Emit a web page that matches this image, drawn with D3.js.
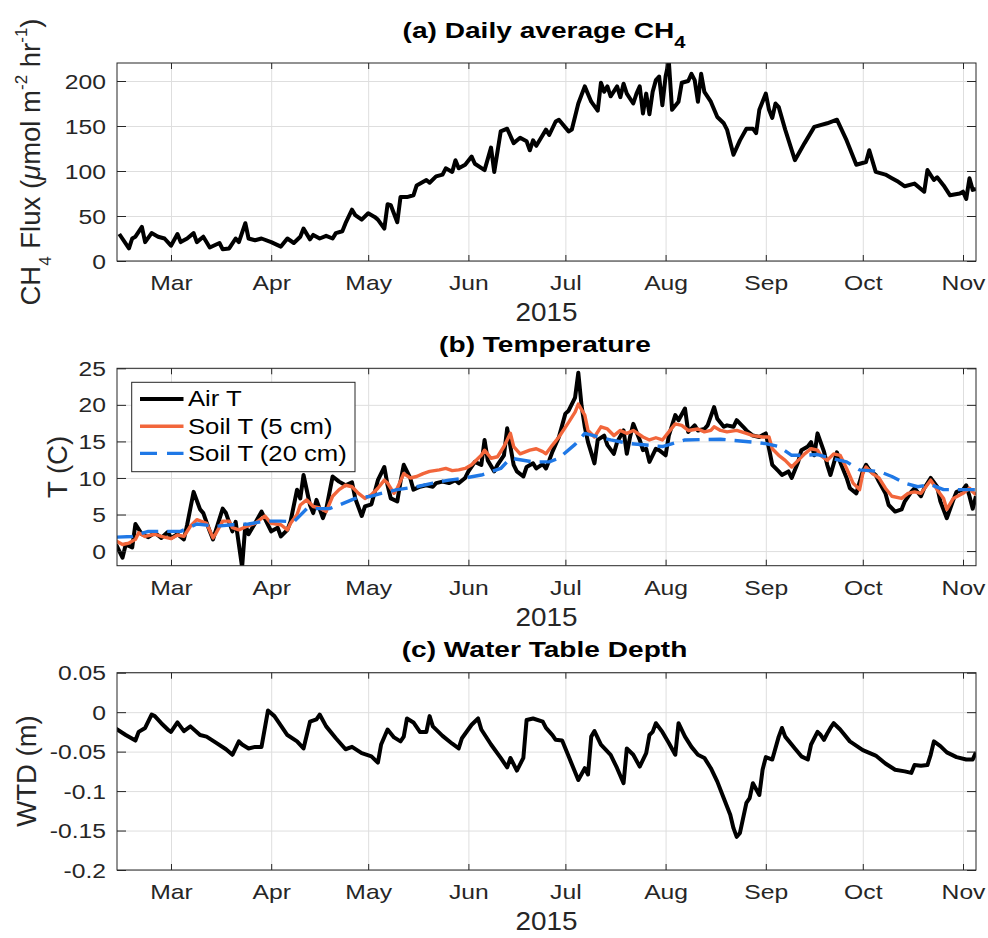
<!DOCTYPE html>
<html>
<head>
<meta charset="utf-8">
<script src="https://cdn.jsdelivr.net/npm/d3@7"></script>
<style>
  html, body { margin: 0; padding: 0; background: #fff; }
  svg { display: block; font-family: "Liberation Sans", Arial, Helvetica, sans-serif; }
</style>
</head>
<body>
<svg id="chart" width="988" height="938"></svg>
<script>
// ---- Data: [day of year 2015, value] ----
// Daily average CH4 flux (umol m-2 hr-1)
const ch4Flux = [
  [44,30],[47,14],[48,25],[49,27],[51,38],[52,21],[54,31],[56,27],[58,25],[60,17],[62,30],[63,21],[65,25],[67,31],
  [68,21],[70,27],[72,15],[75,20],[76,13],[78,14],[80,25],[81,21],[83,42],[84,25],[86,23],[88,25],[91,21],[94,16],
  [96,25],[98,20],[100,27],[101,36],[103,24],[104,29],[106,25],[108,28],[110,25],[111,31],[113,33],[114,42],[116,57],
  [117,51],[119,46],[121,53],[123,49],[124,46],[126,36],[127,63],[128,62],[130,43],[131,71],[133,71],[135,73],[136,84],
  [139,90],[140,87],[142,94],[144,96],[145,103],[147,99],[148,112],[149,103],[151,107],[153,116],[154,108],[157,101],
  [159,126],[160,99],[162,144],[164,147],[166,131],[168,137],[170,133],[171,123],[172,134],[173,128],[175,140],[176,146],
  [177,140],[179,155],[180,157],[183,144],[184,146],[186,175],[188,194],[190,177],[192,167],[193,198],[194,188],[195,194],
  [196,183],[198,194],[199,182],[200,197],[201,186],[203,175],[204,186],[205,194],[206,164],[207,186],[208,163],[209,188],
  [210,201],[211,205],[212,173],[213,205],[214,222],[215,168],[217,177],[218,198],[220,200],[221,208],[222,201],[223,177],
  [224,208],[225,188],[227,177],[229,160],[231,153],[232,146],[234,118],[236,134],[238,147],[240,147],[241,142],[242,168],
  [244,186],[245,168],[246,159],[247,175],[248,171],[250,146],[253,112],[256,131],[259,149],[263,153],[266,157],[269,134],
  [272,107],[275,110],[276,123],[278,99],[281,96],[283,92],[285,88],[287,83],[290,86],[293,77],[294,101],[296,90],
  [297,93],[299,84],[301,73],[304,75],[305,77],[306,69],[307,92],[308,79],[309,80]
];

// Air temperature (C)
const airT = [
  [43,0.9],[45,-0.9],[46,0.9],[48,0.5],[49,3.7],[51,2.3],[53,1.9],[55,2.5],[57,1.8],[59,2.6],[60,1.8],[62,2.3],[64,1.6],
  [65,3.6],[67,8.1],[69,5.7],[70,5.2],[72,2.7],[73,1.6],[76,5.8],[77,5.2],[79,2.7],[80,4.0],[82,-2.2],[83,3.6],[84,2.3],
  [86,3.8],[88,5.4],[90,3.6],[91,2.7],[93,3.2],[94,2.0],[96,2.9],[97,4.1],[99,8.4],[100,7.2],[101,10.4],[103,6.3],
  [104,5.2],[105,7.0],[107,4.5],[108,5.7],[110,10.2],[112,9.5],[114,9.0],[116,9.4],[117,7.2],[119,4.8],[120,6.1],
  [122,6.4],[124,9.7],[126,11.5],[127,9.0],[128,7.2],[130,6.8],[131,9.5],[132,11.8],[134,10.0],[135,8.4],[137,8.8],
  [139,9.0],[141,8.8],[142,9.3],[144,9.5],[146,9.3],[148,9.7],[149,9.3],[151,10.0],[152,10.9],[154,12.2],[156,11.8],
  [157,15.2],[158,12.4],[160,10.9],[161,11.8],[163,13.1],[164,16.8],[166,11.8],[167,10.9],[169,10.2],[170,11.5],
  [172,12.0],[173,11.3],[175,11.9],[176,11.3],[177,12.4],[178,13.6],[180,15.6],[182,18.8],[183,19.2],[185,21.0],
  [186,24.4],[187,19.9],[188,17.0],[189,14.9],[191,12.0],[192,15.2],[194,15.8],[195,14.5],[197,13.3],[198,14.9],
  [200,16.5],[201,13.3],[202,15.6],[203,17.4],[205,15.2],[206,13.8],[207,14.0],[208,12.2],[210,14.0],[211,13.8],
  [213,13.1],[214,15.8],[216,18.6],[217,17.9],[219,19.5],[220,16.3],[222,17.2],[223,16.5],[225,16.7],[226,17.2],
  [228,19.7],[229,18.1],[231,17.0],[232,17.2],[234,17.0],[235,17.9],[237,17.0],[238,16.5],[240,15.8],[242,15.6],
  [244,16.1],[245,14.0],[246,11.8],[248,10.9],[249,10.4],[251,10.9],[252,10.0],[254,12.2],[255,13.8],[257,14.3],
  [258,14.9],[259,13.1],[260,16.1],[262,13.6],[263,11.8],[264,10.4],[266,13.5],[267,12.2],[269,10.0],[270,8.6],
  [272,7.9],[274,10.9],[275,11.8],[276,11.1],[278,10.4],[279,9.5],[281,7.9],[282,6.3],[284,5.4],[286,5.7],[287,6.8],
  [289,8.1],[290,8.6],[292,7.5],[293,8.6],[295,10.0],[297,8.8],[298,6.8],[300,4.5],[302,7.0],[303,8.1],[305,8.4],
  [306,9.0],[307,7.5],[308,5.8],[309,7.5]
];

// Soil temperature at 5 cm (C)
const soilT5 = [
  [43,1.4],[45,0.9],[47,1.1],[49,1.6],[50,2.5],[52,2.0],[55,2.3],[57,2.0],[60,1.7],[62,2.2],[64,2.0],[66,3.4],[68,4.3],
  [71,3.8],[73,1.8],[74,2.5],[76,4.1],[78,4.1],[79,3.2],[81,2.9],[83,3.3],[86,3.8],[89,4.8],[91,3.8],[94,3.6],[96,2.9],
  [97,3.8],[99,5.0],[100,6.3],[102,7.0],[104,6.1],[106,5.9],[108,5.4],[110,7.5],[112,8.4],[114,9.0],[116,8.8],[118,7.9],
  [120,7.2],[122,7.7],[124,8.6],[126,9.7],[127,9.3],[129,7.9],[130,8.6],[132,10.6],[134,10.0],[136,10.2],[138,10.6],
  [140,10.9],[143,11.1],[145,11.3],[147,11.0],[149,11.1],[151,11.3],[153,11.8],[156,13.1],[157,13.8],[159,12.7],
  [161,12.9],[163,14.3],[165,16.1],[166,14.3],[168,13.3],[171,13.8],[173,14.0],[175,13.6],[176,13.3],[178,14.5],
  [180,15.6],[183,17.6],[185,19.0],[186,20.1],[188,18.6],[189,16.5],[191,15.6],[193,17.0],[195,16.7],[197,15.8],
  [199,16.5],[201,16.1],[203,16.5],[206,15.6],[208,15.2],[210,15.5],[212,15.2],[214,16.3],[216,17.4],[218,17.2],
  [220,16.5],[223,16.7],[225,16.3],[227,16.5],[228,17.0],[230,16.5],[232,16.3],[235,16.5],[238,16.1],[240,15.8],
  [243,15.6],[245,15.6],[246,14.0],[248,13.1],[250,12.4],[252,11.5],[254,12.4],[256,13.3],[258,14.0],[260,13.8],
  [261,13.1],[263,12.4],[265,13.3],[267,13.1],[269,11.3],[271,9.3],[273,8.4],[274,10.6],[275,11.5],[277,10.6],
  [279,10.0],[281,8.6],[283,7.5],[286,7.2],[288,7.9],[290,8.1],[292,7.9],[295,9.7],[297,8.4],[299,7.2],[300,5.7],
  [302,7.2],[305,7.9],[307,8.6],[308,8.1],[309,7.7]
];

// Soil temperature at 20 cm (C)
const soilT20 = [
  [43,1.9],[48,2.0],[53,2.7],[58,2.7],[63,2.7],[68,3.7],[74,3.4],[79,3.6],[84,3.7],[89,4.1],[94,4.1],[98,4.0],
  [102,5.8],[109,5.8],[112,6.3],[117,7.2],[122,7.5],[125,7.9],[130,8.4],[136,8.8],[141,9.3],[146,9.7],[151,10.0],
  [156,10.4],[162,11.3],[165,12.7],[172,12.2],[177,12.2],[180,12.7],[185,14.6],[188,16.1],[196,15.2],[202,14.7],
  [207,14.5],[212,14.3],[219,15.2],[230,15.3],[240,14.9],[244,14.7],[248,14.3],[252,13.1],[256,13.1],[260,13.2],
  [264,12.7],[269,12.2],[273,11.1],[279,10.9],[283,10.2],[287,9.3],[291,8.8],[295,9.1],[299,8.4],[309,8.4]
];

// Water table depth (m)
const waterTable = [
  [43,-0.021],[46,-0.029],[49,-0.036],[50,-0.025],[52,-0.020],[54,-0.003],[55,-0.005],[57,-0.014],[59,-0.022],
  [60,-0.025],[62,-0.013],[64,-0.024],[66,-0.018],[69,-0.029],[71,-0.031],[74,-0.039],[77,-0.047],[79,-0.054],
  [81,-0.037],[82,-0.041],[84,-0.046],[86,-0.044],[88,-0.044],[90,0.002],[92,-0.005],[94,-0.017],[96,-0.029],
  [99,-0.037],[101,-0.046],[103,-0.012],[105,-0.009],[106,-0.003],[108,-0.018],[111,-0.033],[114,-0.047],[116,-0.044],
  [119,-0.052],[122,-0.056],[124,-0.064],[125,-0.041],[127,-0.022],[129,-0.032],[131,-0.037],[132,-0.031],[133,-0.008],
  [135,-0.013],[137,-0.025],[139,-0.025],[140,-0.005],[141,-0.018],[144,-0.030],[147,-0.040],[149,-0.046],[150,-0.033],
  [153,-0.016],[155,-0.008],[156,-0.022],[159,-0.041],[162,-0.058],[164,-0.070],[165,-0.058],[167,-0.074],[169,-0.058],
  [170,-0.010],[172,-0.008],[175,-0.012],[176,-0.020],[178,-0.029],[179,-0.035],[181,-0.036],[183,-0.056],[186,-0.086],
  [188,-0.071],[189,-0.079],[190,-0.031],[191,-0.024],[193,-0.041],[196,-0.054],[198,-0.071],[200,-0.090],[201,-0.046],
  [203,-0.054],[205,-0.069],[207,-0.052],[208,-0.029],[209,-0.025],[210,-0.014],[212,-0.025],[214,-0.039],[216,-0.054],
  [217,-0.014],[219,-0.031],[221,-0.044],[223,-0.054],[225,-0.058],[227,-0.071],[229,-0.088],[231,-0.109],[233,-0.130],
  [234,-0.147],[235,-0.158],[236,-0.153],[238,-0.115],[239,-0.109],[240,-0.090],[242,-0.105],[243,-0.073],[244,-0.057],
  [246,-0.060],[248,-0.031],[249,-0.020],[250,-0.031],[253,-0.046],[255,-0.056],[257,-0.060],[258,-0.041],[260,-0.025],
  [261,-0.029],[262,-0.035],[263,-0.027],[264,-0.020],[265,-0.014],[267,-0.022],[270,-0.037],[274,-0.048],[278,-0.055],
  [281,-0.065],[284,-0.073],[287,-0.075],[289,-0.077],[290,-0.067],[292,-0.068],[294,-0.067],[295,-0.054],[296,-0.037],
  [298,-0.043],[300,-0.051],[303,-0.057],[306,-0.060],[308,-0.060],[309,-0.051]
];

// Axis ticks
const fluxTicks = [0, 50, 100, 150, 200];
const tempTicks = [0, 5, 10, 15, 20, 25];
const wtdTicks = [-0.2, -0.15, -0.1, -0.05, 0, 0.05];
const wtdTickLabels = ["-0.2", "-0.15", "-0.1", "-0.05", "0", "0.05"];

// Legend entries for the temperature panel
const tempSeriesNames = ["Air T", "Soil T (5 cm)", "Soil T (20 cm)"];

// ---- Drawing ----
const AXIS = "#262626";
const GRID = "#dedede";
const ORANGE = "#f2663b";
const BLUE = "#1f78e6";
const LEFT = 117, RIGHT = 976;
const TICK_SX = 1.26;   // horizontal stretch applied to tick labels and titles
const LINE_W = 4;       // black series
const SOIL_W = 3.4;     // soil series
const DASH = "17,9";

const svg = d3.select("#chart");
svg.append("rect").attr("width", 988).attr("height", 938).attr("fill", "#fff");

const fromDoy = d => new Date(Date.UTC(2015, 0, 1) + (d - 1) * 864e5);
const x = d3.scaleUtc().domain([fromDoy(43.3), fromDoy(309.02)]).range([LEFT, RIGHT]);
const monthStarts = d3.utcMonth.range(fromDoy(44), fromDoy(309));

function cleanAxis(sel) {
  sel.attr("font-size", null).attr("font-family", null);
  sel.select(".domain").remove();
}

function drawPanel(cfg) {
  const { id, top, bottom, yDomain, yTicks, yFormat } = cfg;
  const y = d3.scaleLinear().domain(yDomain).range([bottom, top]);
  const g = svg.append("g");
  const w = RIGHT - LEFT, h = bottom - top;

  // grid
  g.append("g").attr("transform", `translate(0,${bottom})`)
    .call(d3.axisBottom(x).tickValues(monthStarts).tickSize(-h).tickFormat(""))
    .call(cleanAxis)
    .call(s => s.selectAll("line").attr("stroke", GRID).attr("stroke-width", 1));
  g.append("g").attr("transform", `translate(${LEFT},0)`)
    .call(d3.axisLeft(y).tickValues(yTicks).tickSize(-w).tickFormat(""))
    .call(cleanAxis)
    .call(s => s.selectAll("line").attr("stroke", GRID).attr("stroke-width", 1));

  // clip region for the data
  svg.append("clipPath").attr("id", id)
    .append("rect").attr("x", LEFT).attr("y", top).attr("width", w).attr("height", h);
  const plot = g.append("g").attr("clip-path", `url(#${id})`);

  // ticks: bottom with labels, top without
  g.append("g").attr("transform", `translate(0,${bottom})`)
    .call(d3.axisBottom(x).tickValues(monthStarts).tickSizeInner(-6).tickSizeOuter(0)
      .tickFormat(d3.utcFormat("%b")))
    .call(cleanAxis)
    .call(s => s.selectAll(".tick line").attr("stroke", AXIS))
    .call(s => s.selectAll(".tick text")
      .attr("y", 29.5).attr("dy", null).attr("fill", AXIS)
      .attr("transform", `scale(${TICK_SX},1)`).style("font-size", "19.6px"));
  g.append("g").attr("transform", `translate(0,${top})`)
    .call(d3.axisTop(x).tickValues(monthStarts).tickSizeInner(-6).tickSizeOuter(0).tickFormat(""))
    .call(cleanAxis)
    .call(s => s.selectAll(".tick line").attr("stroke", AXIS));

  // y ticks: left with labels, right without
  g.append("g").attr("transform", `translate(${LEFT},0)`)
    .call(d3.axisLeft(y).tickValues(yTicks).tickSizeInner(-9).tickSizeOuter(0).tickFormat(yFormat))
    .call(cleanAxis)
    .call(s => s.selectAll(".tick line").attr("stroke", AXIS))
    .call(s => s.selectAll(".tick text")
      .attr("x", 0).attr("dy", "0.36em").attr("fill", AXIS).attr("text-anchor", "end")
      .attr("transform", `translate(-11,0) scale(${TICK_SX},1)`).style("font-size", "19.6px"));
  g.append("g").attr("transform", `translate(${RIGHT},0)`)
    .call(d3.axisRight(y).tickValues(yTicks).tickSizeInner(-9).tickSizeOuter(0).tickFormat(""))
    .call(cleanAxis)
    .call(s => s.selectAll(".tick line").attr("stroke", AXIS));

  // box
  g.append("rect").attr("x", LEFT).attr("y", top).attr("width", w).attr("height", h)
    .attr("fill", "none").attr("stroke", AXIS).attr("stroke-width", 1);

  // year label under the month ticks
  g.append("text").attr("transform", `translate(${(LEFT + RIGHT) / 2},${bottom + 60}) scale(1.09,1)`)
    .attr("text-anchor", "middle").attr("fill", AXIS).style("font-size", "25.6px").text("2015");

  return { y, plot, g };
}

function addLine(plot, y, data, color, width, dash) {
  const line = d3.line().x(d => x(fromDoy(d[0]))).y(d => y(d[1]));
  const p = plot.append("path").datum(data).attr("d", line)
    .attr("fill", "none").attr("stroke", color).attr("stroke-width", width)
    .attr("stroke-linejoin", "round").attr("stroke-linecap", "butt");
  if (dash) p.attr("stroke-dasharray", dash);
  return p;
}

function addTitle(cx, baseline, text, sub) {
  const t = svg.append("text")
    .attr("transform", `translate(${cx},${baseline}) scale(${TICK_SX},1)`)
    .attr("text-anchor", "middle").attr("fill", "#000")
    .style("font-weight", "bold").style("font-size", "22.3px");
  t.append("tspan").text(text);
  if (sub) t.append("tspan").attr("dy", 10).style("font-size", "16px").text(sub);
}

// Panel (a): CH4 flux
const pa = drawPanel({ id: "clipA", top: 63, bottom: 261, yDomain: [0, 220], yTicks: fluxTicks, yFormat: d3.format("d") });
addLine(pa.plot, pa.y, ch4Flux, "#000", LINE_W);
addTitle(544, 38, "(a) Daily average CH", "4");
{
  const yl = svg.append("text").attr("transform", "translate(40,162) rotate(-90)")
    .attr("text-anchor", "middle").attr("fill", AXIS).style("font-size", "27.5px");
  yl.append("tspan").text("CH");
  yl.append("tspan").attr("dy", 11).style("font-size", "17px").text("4");
  yl.append("tspan").attr("dy", -11).text(" Flux (");
  yl.append("tspan").style("font-style", "italic").text("\u03bc");
  yl.append("tspan").text("mol m");
  yl.append("tspan").attr("dy", -13).style("font-size", "17px").text("-2");
  yl.append("tspan").attr("dy", 13).text(" hr");
  yl.append("tspan").attr("dy", -13).style("font-size", "17px").text("-1");
  yl.append("tspan").attr("dy", 13).text(")");
}

// Panel (b): temperatures, drawn in legend order
const pb = drawPanel({ id: "clipB", top: 368.3, bottom: 565.7, yDomain: [-2, 25], yTicks: tempTicks, yFormat: d3.format("d") });
addLine(pb.plot, pb.y, airT, "#000", LINE_W);
addLine(pb.plot, pb.y, soilT5, ORANGE, SOIL_W);
addLine(pb.plot, pb.y, soilT20, BLUE, SOIL_W, DASH);
addTitle(545, 352, "(b) Temperature");
svg.append("text").attr("transform", "translate(66.5,467) rotate(-90)")
  .attr("text-anchor", "middle").attr("fill", AXIS).style("font-size", "27.5px").text("T (C)");

// legend
{
  const styles = [
    { color: "#000", width: LINE_W, dash: null },
    { color: ORANGE, width: SOIL_W, dash: null },
    { color: BLUE, width: SOIL_W, dash: "17,10" }
  ];
  const lg = svg.append("g");
  lg.append("rect").attr("x", 131.7).attr("y", 382.3).attr("width", 223.3).attr("height", 89.4)
    .attr("fill", "#fff").attr("stroke", AXIS).attr("stroke-width", 1);
  tempSeriesNames.forEach((name, i) => {
    const cy = 399 + i * 27.2;
    const l = lg.append("line").attr("x1", 140).attr("x2", 183.5).attr("y1", cy).attr("y2", cy)
      .attr("stroke", styles[i].color).attr("stroke-width", styles[i].width);
    if (styles[i].dash) l.attr("stroke-dasharray", styles[i].dash);
    lg.append("text").attr("transform", `translate(188,${cy + 7.3}) scale(1.2,1)`)
      .attr("fill", "#000").style("font-size", "21.4px").text(name);
  });
}

// Panel (c): water table depth
const pc = drawPanel({ id: "clipC", top: 672.7, bottom: 870, yDomain: [-0.2, 0.05], yTicks: wtdTicks,
  yFormat: d => wtdTickLabels[wtdTicks.indexOf(d)] });
addLine(pc.plot, pc.y, waterTable, "#000", LINE_W);
addTitle(544.5, 657, "(c) Water Table Depth");
svg.append("text").attr("transform", "translate(35.5,771) rotate(-90)")
  .attr("text-anchor", "middle").attr("fill", AXIS).style("font-size", "27.5px").text("WTD (m)");
</script>
</body>
</html>
